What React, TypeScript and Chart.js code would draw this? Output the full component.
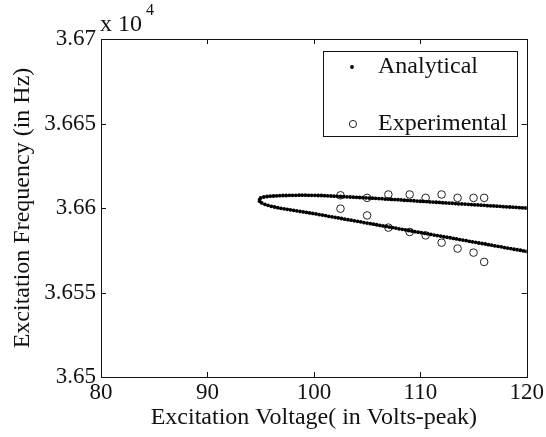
import React, { useEffect, useRef } from "react";
import { Chart, registerables } from "chart.js";

Chart.register(...registerables);

// Analytical solution, upper branch (voltage in Volts-peak, frequency in Hz)
const analyticalUpperV = [
  95.0, 95.3, 95.6, 95.9, 96.2, 96.5, 96.8, 97.1, 97.4, 97.7, 98.0, 98.3, 98.6, 98.9, 99.2, 99.5, 99.8,
  100.1, 100.4, 100.7, 101.0, 101.3, 101.6, 101.9, 102.2, 102.5, 102.8, 103.1, 103.4, 103.7, 104.0, 104.3,
  104.6, 104.9, 105.2, 105.5, 105.8, 106.1, 106.4, 106.7, 107.0, 107.3, 107.6, 107.9, 108.2, 108.5, 108.8,
  109.1, 109.4, 109.7, 110.0, 110.3, 110.6, 110.9, 111.2, 111.5, 111.8, 112.1, 112.4, 112.7, 113.0, 113.3,
  113.6, 113.9, 114.2, 114.5, 114.8, 115.1, 115.4, 115.7, 116.0, 116.3, 116.6, 116.9, 117.2, 117.5, 117.8,
  118.1, 118.4, 118.7, 119.0, 119.3, 119.6, 119.9,
];
const analyticalUpperF = [
  36606.0, 36606.5, 36606.8, 36607.0, 36607.1, 36607.2, 36607.3, 36607.4, 36607.4, 36607.5, 36607.5, 36607.5,
  36607.6, 36607.6, 36607.6, 36607.5, 36607.5, 36607.5, 36607.4, 36607.4, 36607.3, 36607.2, 36607.1, 36607.0,
  36606.9, 36606.8, 36606.7, 36606.6, 36606.5, 36606.4, 36606.3, 36606.2, 36606.1, 36606.0, 36605.9, 36605.8,
  36605.7, 36605.6, 36605.5, 36605.3, 36605.2, 36605.1, 36605.0, 36604.9, 36604.8, 36604.6, 36604.5, 36604.4,
  36604.3, 36604.1, 36604.0, 36603.9, 36603.8, 36603.6, 36603.5, 36603.4, 36603.3, 36603.1, 36603.0, 36602.9,
  36602.8, 36602.6, 36602.5, 36602.4, 36602.3, 36602.2, 36602.0, 36601.9, 36601.8, 36601.7, 36601.6, 36601.4,
  36601.3, 36601.2, 36601.1, 36601.0, 36600.8, 36600.7, 36600.6, 36600.5, 36600.4, 36600.2, 36600.1, 36600.0,
];

// Analytical solution, lower branch
const analyticalLowerV = [
  94.9, 94.9, 95.1, 95.4, 95.7, 96.0, 96.3, 96.6, 96.9, 97.2, 97.5, 97.8, 98.1, 98.4, 98.7, 99.0, 99.3, 99.6,
  99.9, 100.2, 100.5, 100.8, 101.1, 101.4, 101.7, 102.0, 102.3, 102.6, 102.9, 103.2, 103.5, 103.8, 104.1,
  104.4, 104.7, 105.0, 105.3, 105.6, 105.9, 106.2, 106.5, 106.8, 107.1, 107.4, 107.7, 108.0, 108.3, 108.6,
  108.9, 109.2, 109.5, 109.8, 110.1, 110.4, 110.7, 111.0, 111.3, 111.6, 111.9, 112.2, 112.5, 112.8, 113.1,
  113.4, 113.7, 114.0, 114.3, 114.6, 114.9, 115.2, 115.5, 115.8, 116.1, 116.4, 116.7, 117.0, 117.3, 117.6,
  117.9, 118.2, 118.5, 118.8, 119.1, 119.4, 119.7, 120.0,
];
const analyticalLowerF = [
  36605.0, 36604.0, 36603.0, 36602.2, 36601.6, 36601.0, 36600.6, 36600.2, 36599.8, 36599.5, 36599.2, 36598.9,
  36598.6, 36598.3, 36598.0, 36597.7, 36597.4, 36597.1, 36596.8, 36596.5, 36596.1, 36595.8, 36595.5, 36595.1,
  36594.8, 36594.4, 36594.1, 36593.8, 36593.4, 36593.1, 36592.8, 36592.4, 36592.1, 36591.8, 36591.4, 36591.1,
  36590.7, 36590.4, 36590.1, 36589.7, 36589.4, 36589.1, 36588.7, 36588.4, 36588.1, 36587.7, 36587.4, 36587.1,
  36586.7, 36586.4, 36586.0, 36585.7, 36585.4, 36585.0, 36584.7, 36584.4, 36584.0, 36583.7, 36583.4, 36583.0,
  36582.7, 36582.4, 36582.0, 36581.7, 36581.3, 36581.0, 36580.7, 36580.3, 36580.0, 36579.7, 36579.3, 36579.0,
  36578.7, 36578.3, 36578.0, 36577.6, 36577.3, 36577.0, 36576.6, 36576.3, 36576.0, 36575.6, 36575.3, 36575.0,
  36574.6, 36574.3,
];

// Experimental measurements
const experimentalV = [102.5, 105.0, 107.0, 109.0, 110.5, 112.0, 113.5, 115.0, 116.0];
const experimentalUpperF = [36607.5, 36606.0, 36608.0, 36608.0, 36606.0, 36608.0, 36606.0, 36606.0, 36606.0];
const experimentalLowerF = [36599.6, 36595.6, 36588.4, 36585.8, 36583.8, 36579.5, 36576.0, 36573.6, 36568.1];

const xTicks = [80, 90, 100, 110, 120];
const yTicks = [36500, 36550, 36600, 36650, 36700];
const xTitle = "Excitation Voltage( in Volts-peak)";
const yTitle = "Excitation Frequency (in Hz)";
const legendLabels = ["Analytical", "Experimental"];

const FONT = "'Liberation Serif', 'Times New Roman', serif";

const zip = (xs: number[], ys: number[]) => xs.map((x, i) => ({ x, y: ys[i] }));

const framePlugin = {
  id: "frame",
  beforeDraw(chart: any) {
    const { ctx, width, height } = chart;
    ctx.save();
    ctx.fillStyle = "#ffffff";
    ctx.fillRect(0, 0, width, height);
    ctx.restore();
  },
  afterDraw(chart: any) {
    const { ctx, chartArea } = chart;
    const { left, right, top, bottom } = chartArea;
    const xs = chart.scales.x;
    const ys = chart.scales.y;
    ctx.save();
    ctx.strokeStyle = "#111";
    ctx.lineWidth = 1;
    ctx.strokeRect(Math.round(left) + 0.5, Math.round(top) + 0.5, Math.round(right - left), Math.round(bottom - top));
    const tl = 5;
    ctx.beginPath();
    xTicks.forEach((v) => {
      const px = Math.round(xs.getPixelForValue(v)) + 0.5;
      ctx.moveTo(px, bottom);
      ctx.lineTo(px, bottom - tl);
      ctx.moveTo(px, top);
      ctx.lineTo(px, top + tl);
    });
    yTicks.forEach((v) => {
      const py = Math.round(ys.getPixelForValue(v)) + 0.5;
      ctx.moveTo(left, py);
      ctx.lineTo(left + tl, py);
      ctx.moveTo(right, py);
      ctx.lineTo(right - tl, py);
    });
    ctx.stroke();

    // exponent label
    ctx.fillStyle = "#111";
    ctx.textBaseline = "alphabetic";
    ctx.textAlign = "left";
    ctx.font = `24px ${FONT}`;
    ctx.fillText("x 10", 100, 31);
    ctx.font = `16px ${FONT}`;
    ctx.fillText("4", 146, 15);

    // legend
    const bx = 323, by = 51, bw = 194, bh = 85;
    ctx.fillStyle = "#ffffff";
    ctx.fillRect(bx, by, bw, bh);
    ctx.strokeStyle = "#111";
    ctx.strokeRect(bx + 0.5, by + 0.5, bw, bh);
    ctx.fillStyle = "#000";
    ctx.beginPath();
    ctx.arc(352, 67, 1.9, 0, Math.PI * 2);
    ctx.fill();
    ctx.beginPath();
    ctx.arc(353, 124, 3.6, 0, Math.PI * 2);
    ctx.strokeStyle = "#222";
    ctx.stroke();
    ctx.fillStyle = "#111";
    ctx.font = `24px ${FONT}`;
    ctx.textBaseline = "middle";
    ctx.fillText(legendLabels[0], 378, 67);
    ctx.fillText(legendLabels[1], 378, 124);
    ctx.restore();
  },
};

export default function App() {
  const ref = useRef<HTMLCanvasElement | null>(null);
  useEffect(() => {
    document.body.style.margin = "0";
    if (!ref.current) return;
    const chart = new Chart(ref.current, {
      type: "scatter",
      data: {
        datasets: [
          {
            label: legendLabels[0],
            data: [...zip(analyticalUpperV, analyticalUpperF), ...zip(analyticalLowerV, analyticalLowerF)],
            pointRadius: 1.9,
            pointHoverRadius: 1.9,
            backgroundColor: "#000",
            borderColor: "#000",
            borderWidth: 0,
          },
          {
            label: legendLabels[1],
            data: [...zip(experimentalV, experimentalUpperF), ...zip(experimentalV, experimentalLowerF)],
            pointRadius: 3.8,
            pointHoverRadius: 3.8,
            backgroundColor: "rgba(0,0,0,0)",
            borderColor: "#222",
            borderWidth: 1,
          },
        ],
      },
      plugins: [framePlugin],
      options: {
        responsive: false,
        animation: false,
        events: [],
        layout: { padding: { top: 39, right: 19, left: 0, bottom: 0 } },
        plugins: { legend: { display: false }, tooltip: { enabled: false }, title: { display: false } },
        scales: {
          x: {
            type: "linear",
            min: 80,
            max: 120,
            afterFit: (s: any) => {
              s.height = 60;
            },
            afterBuildTicks: (s: any) => {
              s.ticks = xTicks.map((v) => ({ value: v }));
            },
            ticks: {
              color: "#111",
              font: { family: FONT, size: 23 },
              padding: 2,
              maxRotation: 0,
              callback: (v: any) => String(v),
            },
            grid: { display: false, drawTicks: false },
            border: { display: false },
            title: {
              display: true,
              text: xTitle,
              color: "#111",
              font: { family: FONT, size: 24 },
              padding: { top: 0, bottom: 5 },
            },
          },
          y: {
            type: "linear",
            min: 36500,
            max: 36700,
            afterFit: (s: any) => {
              s.width = 101;
            },
            afterBuildTicks: (s: any) => {
              s.ticks = yTicks.map((v) => ({ value: v }));
            },
            ticks: {
              color: "#111",
              font: { family: FONT, size: 23 },
              padding: 5,
              callback: (v: any) => String(parseFloat((Number(v) / 10000).toFixed(4))),
            },
            grid: { display: false, drawTicks: false },
            border: { display: false },
            title: {
              display: true,
              text: yTitle,
              color: "#111",
              font: { family: FONT, size: 24 },
              padding: { top: 8, bottom: 0 },
            },
          },
        },
      },
    });
    return () => chart.destroy();
  }, []);
  return (
    <div style={{ width: 546, height: 437 }}>
      <canvas ref={ref} width={546} height={437} style={{ display: "block" }} />
    </div>
  );
}
